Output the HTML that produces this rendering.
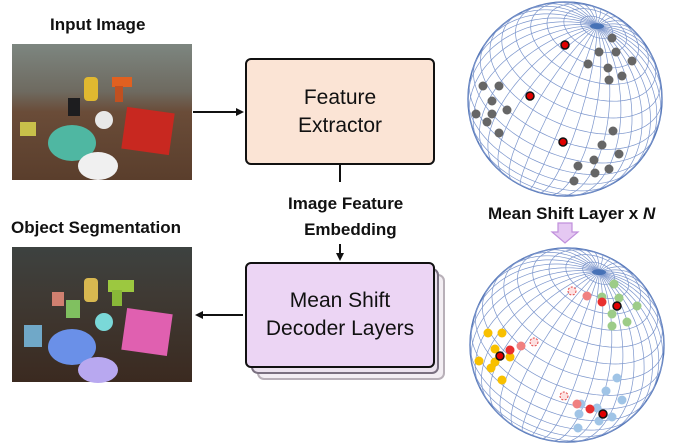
<!DOCTYPE html>
<html><head><meta charset="utf-8"><style>
html,body{margin:0;padding:0;background:#fff}
body{width:680px;height:446px;position:relative;overflow:hidden;font-family:"Liberation Sans",sans-serif}
.lbl{position:absolute;font-weight:bold;font-size:17px;color:#111;white-space:nowrap}
.box{position:absolute;border:2.5px solid #111;border-radius:6px;box-sizing:border-box;display:flex;align-items:center;justify-content:center;text-align:center;font-size:21px;line-height:28px;color:#111}
</style></head><body>
<div class="lbl" style="left:50px;top:15px">Input Image</div>
<div class="lbl" style="left:11px;top:218px">Object Segmentation</div>
<div class="lbl" style="left:288px;top:191px;text-align:center;line-height:26px">Image Feature<br>&nbsp;&nbsp;Embedding</div>
<div class="lbl" style="left:488px;top:204px">Mean Shift Layer x <i>N</i></div>

<svg width="680" height="446" style="position:absolute;left:0;top:0">
<defs>
<linearGradient id="g1" x1="0" y1="0" x2="0" y2="1"><stop offset="0" stop-color="#7d8680"/><stop offset="0.35" stop-color="#6e6a60"/><stop offset="0.5" stop-color="#6a4c38"/><stop offset="1" stop-color="#5a3e2c"/></linearGradient>
<linearGradient id="g2" x1="0" y1="0" x2="0" y2="1"><stop offset="0" stop-color="#3d4240"/><stop offset="0.35" stop-color="#3f3a34"/><stop offset="1" stop-color="#3b2a20"/></linearGradient>
</defs>
<!-- photo 1 -->
<rect x="12" y="44" width="180" height="136" fill="url(#g1)"/>
<rect x="84" y="77" width="14" height="24" rx="4" fill="#e0b830"/>
<rect x="112" y="77" width="20" height="10" fill="#e06020"/><rect x="115" y="86" width="8" height="16" fill="#c05020"/>
<rect x="68" y="98" width="12" height="18" fill="#1d1d1f"/>
<circle cx="104" cy="120" r="9" fill="#e8e8e8"/>
<rect x="124" y="110" width="48" height="42" fill="#c82820" transform="rotate(8 148 131)"/>
<ellipse cx="72" cy="143" rx="24" ry="18" fill="#4fb7a2"/>
<ellipse cx="98" cy="166" rx="20" ry="14" fill="#f0f0f0"/>
<rect x="20" y="122" width="16" height="14" fill="#c8c04a"/>
<!-- photo 2 -->
<rect x="12" y="247" width="180" height="135" fill="url(#g2)"/>
<rect x="84" y="278" width="14" height="24" rx="4" fill="#d8b850"/>
<rect x="108" y="280" width="26" height="12" fill="#9cc840"/><rect x="112" y="290" width="10" height="16" fill="#88b838"/>
<rect x="66" y="300" width="14" height="18" fill="#80c060"/>
<rect x="52" y="292" width="12" height="14" fill="#d08070"/>
<circle cx="104" cy="322" r="9" fill="#7ad8d8"/>
<rect x="124" y="311" width="46" height="42" fill="#e060b0" transform="rotate(8 147 332)"/>
<ellipse cx="72" cy="347" rx="24" ry="18" fill="#6a90e8"/>
<ellipse cx="98" cy="370" rx="20" ry="13" fill="#b8a8f0"/>
<rect x="24" y="325" width="18" height="22" fill="#70a8c8"/>
<!-- boxes arrows -->
<g stroke="#111" stroke-width="2" fill="#111">
<line x1="193" y1="112" x2="238" y2="112"/><polygon points="244,112 236,108 236,116" stroke="none"/>
<line x1="340" y1="165" x2="340" y2="182"/>
<line x1="340" y1="244" x2="340" y2="255"/><polygon points="340,261 336,253 344,253" stroke="none"/>
<line x1="243" y1="315" x2="201" y2="315"/><polygon points="195,315 203,311 203,319" stroke="none"/>
</g>
<rect x="258" y="275" width="186" height="104" rx="6" fill="#f3eef3" stroke="#b8b0b8" stroke-width="2"/>
<rect x="252" y="269" width="186" height="104" rx="6" fill="#ece2ee" stroke="#7a7080" stroke-width="2"/>
<!-- purple arrow -->
<polygon points="558,223 572,223 572,232 578,232 565,243 552,232 558,232" fill="#e5c8f2" stroke="#c090dc" stroke-width="1.2"/>
<g id="s1"></g><g id="s2"></g>
</svg>
<div class="box" style="left:245px;top:58px;width:190px;height:107px;background:#fbe4d5">Feature<br>Extractor</div>
<div class="box" style="left:245px;top:262px;width:190px;height:106px;background:#ecd5f4">Mean Shift<br>Decoder Layers</div>
<script>
function sphere(id,cx,cy,r,dots){
 var g=document.getElementById(id),ns="http://www.w3.org/2000/svg";
 var p=[0.33,-0.75,0.57];var m=Math.hypot(p[0],p[1],p[2]);p=p.map(function(v){return v/m});
 var a=[1,0,0];var d=a[0]*p[0];var e1=[a[0]-d*p[0],-d*p[1],-d*p[2]];m=Math.hypot(e1[0],e1[1],e1[2]);e1=e1.map(function(v){return v/m});
 var e2=[p[1]*e1[2]-p[2]*e1[1],p[2]*e1[0]-p[0]*e1[2],p[0]*e1[1]-p[1]*e1[0]];
 function pt(lat,lon){var cl=Math.cos(lat),c=cl*Math.cos(lon),s=cl*Math.sin(lon),z=Math.sin(lat);
  return [c*e1[0]+s*e2[0]+z*p[0],c*e1[1]+s*e2[1]+z*p[1],c*e1[2]+s*e2[2]+z*p[2]];}
 var h='<circle cx="'+cx+'" cy="'+cy+'" r="'+r+'" fill="#fff" stroke="#5577b8" stroke-width="1.5"/>';
 function line(f,n){var segs=[],cur=[];for(var i=0;i<=n;i++){var v=f(i/n);if(v[2]>=-0.02){cur.push((cx+v[0]*r).toFixed(1)+','+(cy+v[1]*r).toFixed(1));}else{if(cur.length>1)segs.push(cur);cur=[];}}if(cur.length>1)segs.push(cur);
  segs.forEach(function(s){h+='<polyline points="'+s.join(' ')+'" fill="none" stroke="#7b95cc" stroke-width="0.7"/>';});}
 for(var la=-80;la<=80;la+=10){(function(la){line(function(t){return pt(la*Math.PI/180,t*2*Math.PI)},120)})(la);}
 for(var lo=0;lo<360;lo+=10){(function(lo){line(function(t){return pt(-Math.PI/2+t*Math.PI,lo*Math.PI/180)},80)})(lo);}
 var pc=[cx+p[0]*r,cy+p[1]*r];h+='<ellipse cx="'+pc[0]+'" cy="'+pc[1]+'" rx="7" ry="3" fill="#3a68b0" opacity="0.8"/>';
 dots.forEach(function(o){h+='<circle cx="'+o[0]+'" cy="'+o[1]+'" r="'+(o[3]||4.5)+'" fill="'+o[2]+'"'+(o[4]?' stroke="'+o[4]+'" stroke-width="'+(o[5]||1.5)+'"'+(o[6]?' stroke-dasharray="2,1.5"':''):'')+'/>';});
 g.innerHTML=h;}
var G='#666';
sphere('s1',565,99,97,[[612,38,G],[599,52,G],[616,52,G],[632,61,G],[588,64,G],[608,68,G],[622,76,G],[609,80,G],[483,86,G],[499,86,G],[492,101,G],[507,110,G],[476,114,G],[492,114,G],[487,122,G],[499,133,G],[613,131,G],[602,145,G],[619,154,G],[594,160,G],[578,166,G],[609,169,G],[595,173,G],[574,181,G],
[565,45,'#e00000',4,'#111'],[530,96,'#e00000',4,'#111'],[563,142,'#e00000',4,'#111']]);
var Gr='#9dcc88',Y='#f8c000',B='#a0c4e6';
sphere('s2',567,345,97,[[614,284,Gr],[602,297,Gr],[619,298,Gr],[637,306,Gr],[612,314,Gr],[627,322,Gr],[612,326,Gr],
[488,333,Y],[502,333,Y],[495,349,Y],[479,361,Y],[495,362,Y],[510,357,Y],[491,368,Y],[502,380,Y],
[617,378,B],[606,391,B],[622,400,B],[581,404,B],[597,408,B],[612,417,B],[579,414,B],[599,421,B],[578,428,B],
[572,291,'#fde0e0',4,'#e04040',1,1],[587,296,'#f08080'],[602,302,'#e83030'],
[534,342,'#fde0e0',4,'#e04040',1,1],[521,346,'#f08080'],[510,350,'#e83030'],
[564,396,'#fde0e0',4,'#e04040',1,1],[577,404,'#f08080'],[590,409,'#e83030'],
[617,306,'#e00000',4,'#111'],[500,356,'#e00000',4,'#111'],[603,414,'#e00000',4,'#111']]);
</script>
</body></html>
